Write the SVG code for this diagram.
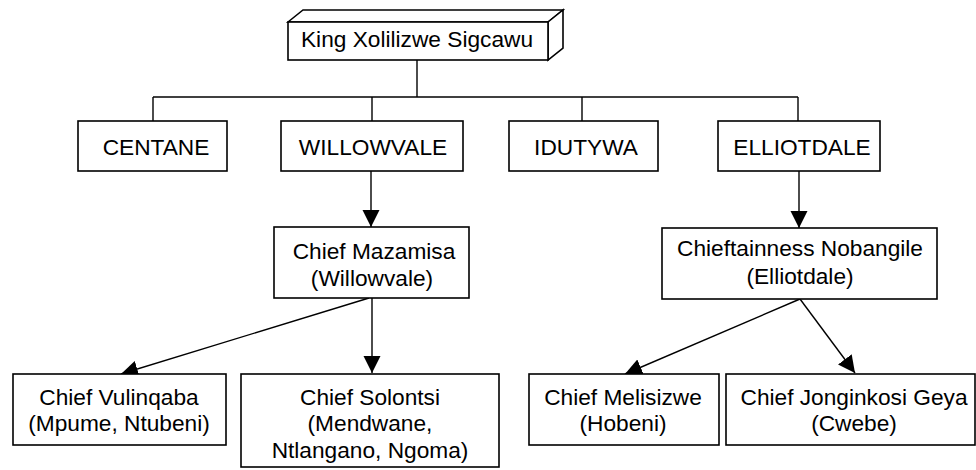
<svg xmlns="http://www.w3.org/2000/svg" width="976" height="470" viewBox="0 0 976 470">
<style>
  .box { fill: #ffffff; stroke: #000000; stroke-width: 1.6; }
  .ln { fill: none; stroke: #000000; stroke-width: 1.4; }
  .t { font-family: "Liberation Sans", Arial, sans-serif; font-size: 22.7px; fill: #000000; text-anchor: middle; }
</style>
<defs>
  <marker id="ah" markerUnits="userSpaceOnUse" markerWidth="18" markerHeight="18" refX="17" refY="9" orient="auto">
    <path d="M0,0.5 L17,9 L0,17.5 z" fill="#000000"/>
  </marker>
</defs>
<rect width="976" height="470" fill="#ffffff"/>

<g id="connectors">
  <path class="ln" d="M417,60 V97"/>
  <path class="ln" d="M153,97 H798"/>
  <path class="ln" d="M153,97 V121"/>
  <path class="ln" d="M372,97 V121"/>
  <path class="ln" d="M582,97 V121"/>
  <path class="ln" d="M798,97 V121"/>
  <path class="ln" d="M371,171 V227" marker-end="url(#ah)"/>
  <path class="ln" d="M799,171 V228" marker-end="url(#ah)"/>
  <path class="ln" d="M369,298 L121,374" marker-end="url(#ah)"/>
  <path class="ln" d="M372,298 V373" marker-end="url(#ah)"/>
  <path class="ln" d="M800,299 L625,374" marker-end="url(#ah)"/>
  <path class="ln" d="M800,299 L855,373" marker-end="url(#ah)"/>
</g>

<g id="king">
  <polygon class="box" points="288,22 303,10 563,10 548,22"/>
  <polygon class="box" points="548,22 563,10 563,48 548,60"/>
  <rect class="box" x="288" y="22" width="260" height="38"/>
  <text class="t" x="417" y="47">King Xolilizwe Sigcawu</text>
</g>

<g id="centane">
  <rect class="box" x="78" y="121" width="149" height="50"/>
  <text class="t" x="156" y="155">CENTANE</text>
</g>
<g id="willowvale">
  <rect class="box" x="281" y="121" width="182" height="50"/>
  <text class="t" x="373" y="155">WILLOWVALE</text>
</g>
<g id="idutywa">
  <rect class="box" x="509" y="121" width="149" height="50"/>
  <text class="t" x="586" y="155">IDUTYWA</text>
</g>
<g id="elliotdale">
  <rect class="box" x="718" y="121" width="162" height="50"/>
  <text class="t" x="802" y="155">ELLIOTDALE</text>
</g>

<g id="mazamisa">
  <rect class="box" x="274" y="227" width="195" height="71"/>
  <text class="t" x="374" y="259">Chief Mazamisa</text>
  <text class="t" x="372" y="286">(Willowvale)</text>
</g>
<g id="nobangile">
  <rect class="box" x="662" y="228" width="275" height="71"/>
  <text class="t" x="800" y="256">Chieftainness Nobangile</text>
  <text class="t" x="800" y="284">(Elliotdale)</text>
</g>

<g id="vulinqaba">
  <rect class="box" x="13" y="374" width="213" height="71"/>
  <text class="t" x="119" y="405">Chief Vulinqaba</text>
  <text class="t" x="119" y="431">(Mpume, Ntubeni)</text>
</g>
<g id="solontsi">
  <rect class="box" x="241" y="374" width="258" height="93"/>
  <text class="t" x="370" y="405">Chief Solontsi</text>
  <text class="t" x="370" y="431">(Mendwane,</text>
  <text class="t" x="370" y="458">Ntlangano, Ngoma)</text>
</g>
<g id="melisizwe">
  <rect class="box" x="529" y="374" width="190" height="71"/>
  <text class="t" x="623" y="405">Chief Melisizwe</text>
  <text class="t" x="623" y="431">(Hobeni)</text>
</g>
<g id="jonginkosi">
  <rect class="box" x="726" y="374" width="249" height="71"/>
  <text class="t" x="854" y="405">Chief Jonginkosi Geya</text>
  <text class="t" x="854" y="431">(Cwebe)</text>
</g>
</svg>
